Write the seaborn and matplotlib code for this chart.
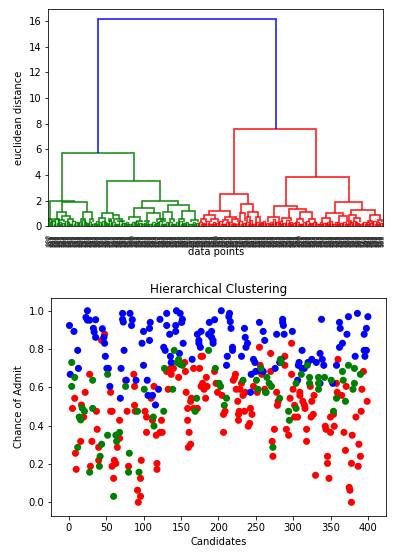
import matplotlib
matplotlib.use("Agg")
import matplotlib.pyplot as plt
import numpy as np
import pandas as pd
import seaborn as sns

W, H = 394, 560

# ---- scatter data ----
red_x = [48,44,28,8,5,22,17,20,37,38,16,31,9,40,10,29,40,56,56,58,68,68,65,61,63,58,60,76,78,87,88,88,89,80,97,96,92,96,93,102,104,104,112,114,110,117,122,125,124,118,118,133,131,136,138,137,140,147,155,156,167,157,159,159,161,163,160,164,163,167,172,177,179,175,
         179,184,179,177,181,185,183,180,195,197,199,205,207,209,207,220,223,222,224,229,231,233,236,226,228,227,227,235,243,245,242,240,247,252,256,258,255,262,270,270,278,280,279,275,272,273,291,294,289,289,298,298,300,296,302,302,306,309,309,313,315,316,318,318,323,328,325,327,324,330,343,344,350,355,350,354,358,359,365,360,371,368,379,370,346,346,348,388,390,378,387,375,376,378,392,394,399,391,384]
red_y = [.877,.845,.668,.543,.49,.574,.508,.445,.475,.381,.318,.318,.256,.287,.172,.188,.219,.574,.475,.475,.428,.334,.287,.219,.203,.188,.125,.637,.475,.668,.605,.506,.475,.188,.219,.125,.063,.031,0,.475,.445,.365,.428,.605,.543,.35,.365,.365,.428,.203,.172,.59,.683,.699,.699,.668,.699,.652,.73,.683,.699,.574,.49,.428,.365,.303,.287,.543,.527,.49,.49,.762,.605,.699,
         .762,.652,.621,.605,.59,.605,.543,.605,.683,.621,.574,.558,.459,.475,.365,.637,.668,.652,.59,.59,.621,.558,.574,.527,.475,.459,.428,.475,.49,.459,.412,.397,.605,.574,.715,.668,.809,.59,.777,.683,.574,.527,.506,.381,.318,.24,.381,.35,.762,.715,.83,.668,.59,.543,.506,.445,.445,.574,.558,.527,.508,.49,.381,.318,.605,.558,.527,.459,.445,.141,.397,.381,.365,.397,.445,.459,.621,.574,.558,.746,.605,.365,.35,.271,.24,.203,.125,.303,.24,.203,.188,.078,.063,0,.59,.683,.527,.475,.445]

blue_x = [1,7,25,23,25,28,36,33,34,36,45,47,48,49,51,53,55,12,13,2,72,72,73,82,85,84,74,70,77,69,90,100,108,109,98,108,100,105,106,112,116,120,122,131,131,135,143,143,144,149,152,151,153,127,129,136,137,148,165,
          204,215,214,216,217,188,195,177,172,174,174,176,191,187,191,193,193,219,219,212,211,231,235,236,239,237,255,260,262,278,288,286,286,287,299,247,249,244,250,255,260,276,282,284,243,312,308,307,312,315,306,320,325,331,336,339,341,336,338,353,358,362,366,362,363,372,374,386,400,398,395,383,395,398,396]
blue_y = [.923,.892,1.0,.965,.951,.951,.953,.908,.889,.861,.906,.861,.83,.762,.699,.699,.605,.793,.699,.668,.986,.955,.941,.986,.953,.923,.793,.699,.637,.543,.637,.892,.908,.939,.83,.845,.715,.637,.558,.558,.508,.59,.955,.986,.923,.877,.892,.923,1.0,.986,.955,.939,.83,.809,.793,.762,.73,.777,.746,
          1.0,.986,.969,.943,.908,.939,.953,.892,.877,.845,.83,.809,.892,.877,.861,.845,.83,.809,.793,.762,.715,.762,.908,.861,.83,.809,.939,.892,.845,.877,.877,.955,.939,.923,.892,.746,.73,.668,.683,.687,.683,.699,.73,.746,.574,.793,.73,.715,.699,.699,.637,.73,.746,.73,.777,.746,.715,.621,.955,.621,.715,.809,.83,.939,.908,.877,.969,.986,.969,.908,.877,.762,.793,.793,.762]

green_x = [4,8,4,32,52,76,101,18,21,14,16,32,92,113,114,127,128,141,147,145,149,152,139,171,169,52,63,68,64,12,44,42,41,28,81,80,94,60,
           187,196,201,203,211,208,233,251,253,257,265,268,271,263,264,282,273,283,284,294,304,295,304,311,319,322,322,334,334,334,342,351,354,358,366,367,370,374,382,382,380,390]
green_y = [.73,.652,.605,.637,.668,.605,.59,.492,.475,.445,.43,.49,.475,.445,.398,.475,.699,.793,.746,.73,.72,.715,.59,.543,.475,.35,.35,.365,.318,.287,.303,.24,.188,.157,.256,.157,.157,.031,
           .793,.699,.621,.605,.543,.506,.637,.637,.59,.699,.652,.621,.605,.574,.574,.543,.287,.746,.73,.475,.49,.428,.621,.668,.715,.652,.621,.652,.621,.59,.652,.637,.475,.543,.683,.637,.527,.715,.699,.621,.59,.668]

# ---- dendrogram merges: left leaf pos, right leaf pos, merge height, left/right leg bottoms ----
top_left, top_right, top_h, top_hl, top_hr = [589], [2718], [16.15], [5.73], [7.6]

green_l = [163,20,163,100,70,165,130,230,410,385,495,696,637,600,768,730,790,830,1118,1023,960,1060,1174,1150,1300,1425,1373,1350,1450,1592,1560,1710,8]
green_r = [1023,306,462,211,130,260,190,300,518,436,540,1333,768,674,850,750,880,900,1552,1262,1090,1120,1333,1200,1370,1684,1477,1400,1505,1751,1620,1785,40]
green_h = [5.73,1.97,1.88,1.09,.6,.8,.5,.6,1.14,.55,.6,3.55,1.06,.65,.85,.55,.55,.45,1.97,1.45,.72,.45,1.0,.45,.6,1.66,1.14,.55,.6,1.22,.55,.5,.55]
green_hl = [1.97,.55,1.09,.6,.3,.5,.3,.3,.55,.3,.3,1.06,.65,.3,.55,.3,.3,.3,1.45,.72,.5,.3,.45,.3,.3,1.14,.55,.3,.3,.55,.3,.3,.3]
green_hr = [3.55,1.88,1.14,.8,.3,.6,.3,.3,.6,.3,.3,1.97,.85,.3,.55,.3,.45,.3,1.66,1.0,.45,.3,.6,.3,.3,1.22,.6,.3,.3,.5,.3,.3,.3]

red_l = [2217,2050,1918,1858,1820,1950,2110,2090,2200,2308,2288,2388,2370,2480,2838,2694,2627,2877,2798,3005,2975,3110,3423,3323,3275,3470,3622,3590,3650,3840,3815,3935,3590]
red_r = [3204,2388,2177,1990,1890,2030,2245,2150,2270,2448,2348,2507,2410,2535,3590,2977,2758,3077,2906,3152,3040,3190,3753,3522,3370,3575,3900,3680,3720,3960,3865,3985,3620]
red_h = [7.6,2.55,1.2,.9,.55,.6,.75,.5,.55,1.75,1.0,1.15,.7,.7,3.86,1.6,.7,1.32,.65,1.14,.55,.55,1.93,1.06,.65,.8,1.3,.85,.65,.85,.45,.5,.4]
red_hl = [2.55,1.2,.9,.55,.3,.3,.5,.3,.3,1.0,.4,.7,.3,.3,1.6,.7,.35,.65,.35,.55,.3,.3,1.06,.65,.3,.35,.85,.4,.3,.45,.25,.3,.2]
red_hr = [3.86,1.75,.75,.6,.3,.3,.55,.3,.3,1.15,.4,.7,.3,.3,1.93,1.32,.35,1.14,.4,.55,.3,.3,1.3,.8,.3,.35,.85,.65,.3,.5,.25,.3,.2]

# lowest merges, one per small leaf group, left to right
green_low = [.6,.45,.55,.3,.25,.4,.2,.45,.35,.3,.5,.25,.35,.2,.4,.3,.45,.25,.5,.3,.2,.4,.25,.3,.2,.35,.4,.25,.2,.3,.15,.35,.25,.4,.2,.3,.35,.2,.3,.4,.25,.35,.2,.3,.25]
red_low = [.3,.25,.45,.2,.3,.25,.4,.2,.35,.3,.25,.2,.4,.25,.3,.5,.2,.35,.3,.45,.25,.3,.55,.3,.4,.25,.5,.3,.25,.35,.2,.3,.4,.25,.3,.2,.35,.25,.3,.4,.2,.3,.25,.35,.2,.3,.4,.25,.2,.35,.3,.25,.4,.3,.25]
green_base = [.3,.2,.25,.15,.2,.3,.15,.2,.25,.15,.3,.2,.15,.25,.2,.15,.3,.2,.25,.15,.2,.15,.25,.2,.15,.3,.2,.15,.25,.2,.15,.2,.3,.15,.2,.25,.15,.2,.3,.15,.25,.2,.15,.2,.25]
red_base = [.2,.15,.25,.2,.15,.3,.2,.15,.25,.2,.15,.3,.2,.25,.15,.2,.3,.15,.25,.2,.15,.2,.3,.25,.15,.2,.25,.15,.3,.2,.15,.25,.2,.15,.3,.2,.15,.25,.2,.15,.3,.2,.25,.15,.2,.15,.3,.2,.25,.15,.2,.3,.15,.2,.25]

# original row numbers of the leaves are not legible; any three-digit mix gives the same band
leaf_labels = [str(100 + (i * 137) % 300) for i in range(400)]
dist_ticks = list(range(0, 18, 2))
cand_ticks = list(range(0, 450, 50))

plt.rcParams["font.family"] = "DejaVu Sans"
fig = plt.figure(figsize=(W / 72, H / 72), dpi=72, facecolor="white")


def axes_px(l, t, r, b):
    return fig.add_axes([l / W, 1 - b / H, (r - l) / W, (b - t) / H])


ax1 = axes_px(48.3, 9.3, 383, 226.3)


def draw_u(ax, xl, xr, h, hl, hr, color, lw=1.7):
    ax.plot([xl, xl, xr, xr], [hl, h, h, hr], color=color, lw=lw,
            solid_joinstyle="miter", solid_capstyle="butt", alpha=0.85)


for j, h in enumerate(green_low):
    draw_u(ax1, 5 + 40 * j, 35 + 40 * j, h, 0, 0, "g", 1.4)
for j, h in enumerate(green_base):
    draw_u(ax1, 25 + 40 * j, 45 + 40 * j, h, 0, 0, "g", 1.4)
for j, h in enumerate(red_low):
    draw_u(ax1, 1805 + 40 * j, 1835 + 40 * j, h, 0, 0, "r", 1.4)
for j, h in enumerate(red_base):
    draw_u(ax1, 1825 + 40 * j, 1845 + 40 * j, h, 0, 0, "r", 1.4)
for row in zip(green_l, green_r, green_h, green_hl, green_hr):
    draw_u(ax1, *row, "g")
for row in zip(red_l, red_r, red_h, red_hl, red_hr):
    draw_u(ax1, *row, "r")
for row in zip(top_left, top_right, top_h, top_hl, top_hr):
    draw_u(ax1, *row, "b")

ax1.set_xlim(0, 4000)
ax1.set_ylim(0, 16.9)
ax1.set_yticks(dist_ticks)
ax1.set_xticks([5 + 10 * i for i in range(400)])
ax1.set_xticklabels(leaf_labels, rotation=90, fontsize=6.5, color="#333333")
ax1.tick_params(axis="x", pad=4.5)
for t in ax1.get_xticklines():
    t.set_visible(False)
ax1.set_ylabel("euclidean distance", fontsize=10)
ax1.set_xlabel("data points", fontsize=10)
ax1.xaxis.set_label_coords(0.5, -0.097)
ax1.yaxis.set_label_coords(-0.074, 0.5)

ax2 = axes_px(51.3, 297.7, 386.3, 515.7)
df = pd.DataFrame({
    "x": red_x + blue_x + green_x,
    "y": red_y + blue_y + green_y,
    "cluster": ["red"] * len(red_x) + ["blue"] * len(blue_x) + ["green"] * len(green_x),
})
sns.scatterplot(data=df, x="x", y="y", hue="cluster",
                palette={"red": "red", "blue": "blue", "green": "green"},
                s=50, linewidth=0, legend=False, ax=ax2)
ax2.set_xlim(-23.3, 424.6)
ax2.set_ylim(-0.07, 1.068)
ax2.set_xticks(cand_ticks)
ax2.set_title("Hierarchical Clustering", fontsize=12, pad=5)
ax2.set_xlabel("Candidates", fontsize=10)
ax2.set_ylabel("Chance of Admit", fontsize=10)

fig.savefig("out.png", dpi=72)
